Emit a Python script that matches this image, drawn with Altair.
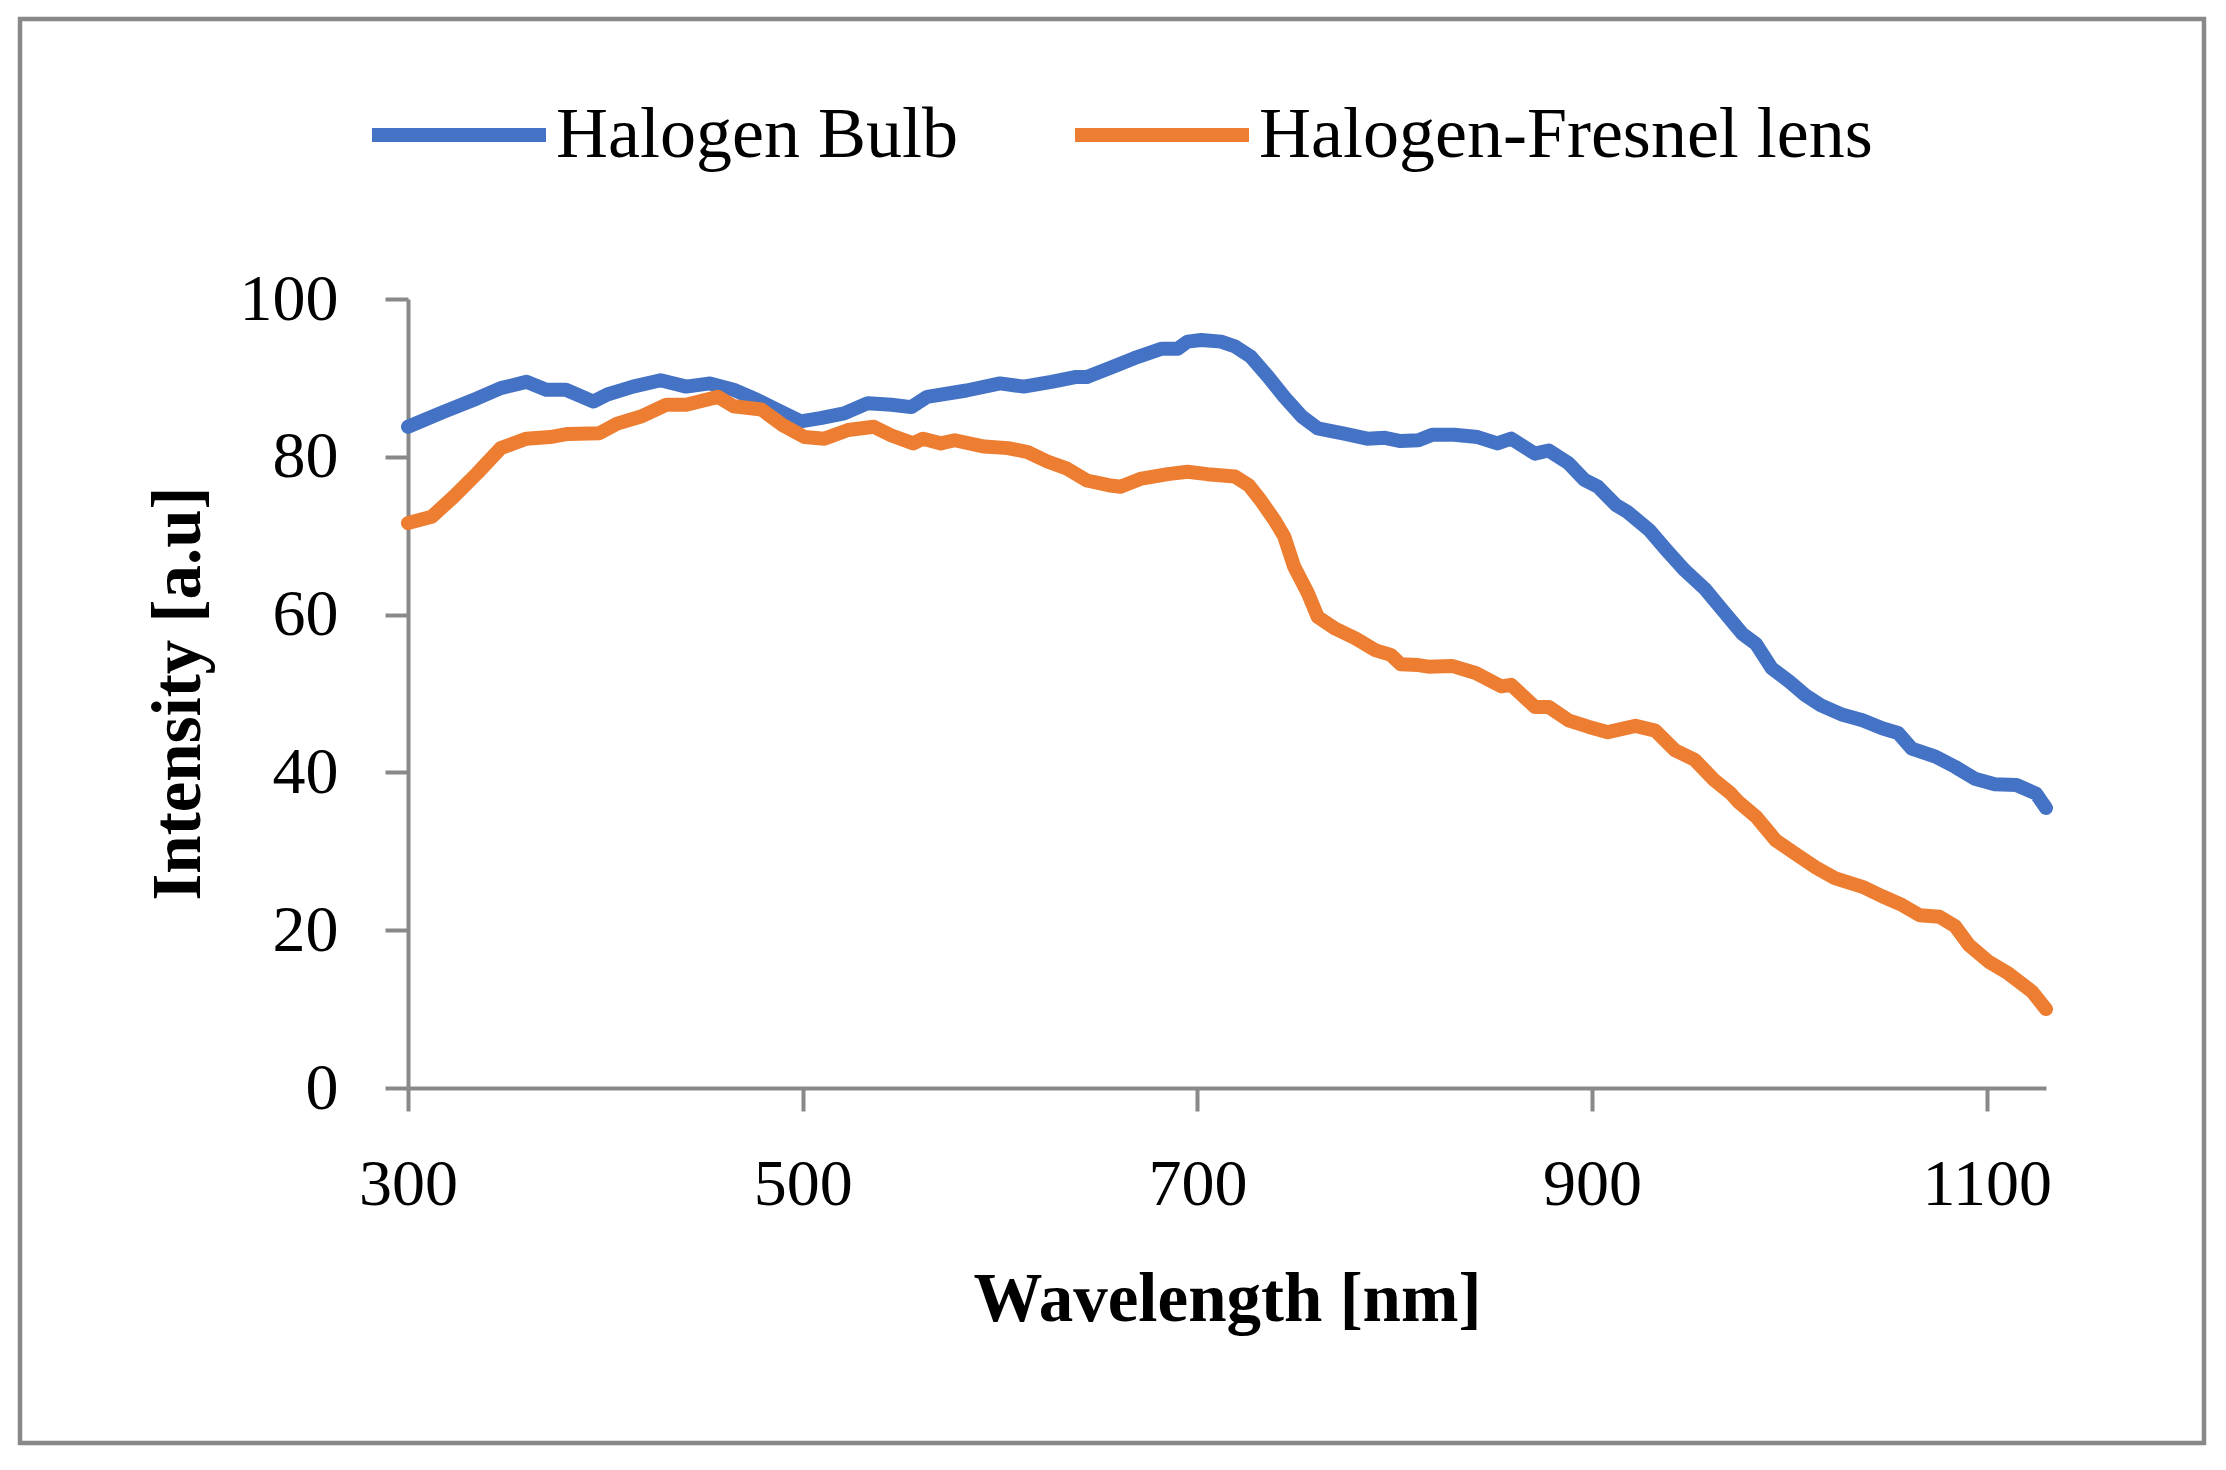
import pandas as pd
import altair as alt

# Halogen bulb spectrum
bulb_nm = [300, 318, 335, 347, 360, 370, 380, 394, 401, 414, 428, 441, 453, 465,
           477, 489, 499, 509, 521, 533, 545, 555, 563, 583, 600, 612, 626, 638,
           644, 655, 668, 682, 690, 695, 702, 712, 719, 727, 736, 744, 753, 761,
           775, 786, 795, 803, 812, 819, 830, 842, 852, 859, 871, 878, 888, 896,
           903, 912, 918, 929, 939, 947, 957, 966, 976, 983, 991, 1000, 1008,
           1016, 1027, 1037, 1047, 1055, 1062, 1074, 1084, 1094, 1104, 1115,
           1125, 1130]
bulb_val = [83.8, 85.7, 87.4, 88.7, 89.5, 88.5, 88.5, 87.0, 87.9, 88.9, 89.7, 88.9,
            89.3, 88.5, 87.2, 85.7, 84.5, 84.9, 85.5, 86.8, 86.6, 86.3, 87.6, 88.4,
            89.3, 88.9, 89.5, 90.1, 90.1, 91.2, 92.5, 93.7, 93.7, 94.6, 94.8, 94.6,
            94.0, 92.7, 90.1, 87.6, 85.1, 83.6, 82.9, 82.3, 82.4, 82.0, 82.1, 82.8,
            82.8, 82.5, 81.7, 82.3, 80.4, 80.8, 79.2, 77.1, 76.2, 73.9, 73.0, 70.7,
            67.8, 65.6, 63.3, 60.6, 57.6, 56.3, 53.2, 51.5, 49.8, 48.5, 47.3, 46.6,
            45.6, 45.0, 43.0, 42.0, 40.7, 39.2, 38.5, 38.4, 37.3, 35.5]

# Halogen bulb + Fresnel lens spectrum
fresnel_nm = [300, 312, 323, 335, 347, 360, 372, 381, 397, 406, 418, 431, 441, 457,
              465, 479, 490, 501, 511, 523, 536, 545, 556, 561, 570, 577, 592, 604,
              614, 624, 634, 644, 655, 661, 671, 685, 695, 705, 719, 726, 732, 739,
              744, 749, 756, 761, 770, 780, 790, 798, 803, 812, 817, 829, 841, 854,
              859, 871, 878, 888, 898, 908, 922, 932, 942, 952, 962, 970, 974, 983,
              993, 1003, 1013, 1023, 1037, 1047, 1057, 1066, 1076, 1084, 1091, 1101,
              1111, 1123, 1130]
fresnel_val = [71.6, 72.4, 74.9, 77.9, 81.1, 82.3, 82.5, 82.9, 83.0, 84.2, 85.1, 86.6,
               86.6, 87.6, 86.4, 86.0, 84.0, 82.5, 82.3, 83.4, 83.8, 82.7, 81.7, 82.3,
               81.7, 82.1, 81.3, 81.1, 80.6, 79.4, 78.5, 77.0, 76.4, 76.2, 77.2, 77.8,
               78.1, 77.8, 77.5, 76.4, 74.5, 72.0, 69.9, 66.1, 62.7, 59.7, 58.2, 57.0,
               55.5, 54.9, 53.7, 53.6, 53.4, 53.5, 52.6, 50.9, 51.1, 48.3, 48.3, 46.6,
               45.8, 45.1, 45.9, 45.3, 42.8, 41.6, 39.0, 37.4, 36.3, 34.4, 31.4, 29.7,
               28.0, 26.6, 25.5, 24.3, 23.2, 21.9, 21.7, 20.5, 18.1, 16.0, 14.5, 12.2,
               10.0]

series_names = ['Halogen Bulb', 'Halogen-Fresnel lens']
series_colors = ['#4472C4', '#ED7D31']
x_ticks = [300, 500, 700, 900, 1100]
y_ticks = [0, 20, 40, 60, 80, 100]

df = pd.concat([
    pd.DataFrame({'wavelength': bulb_nm, 'intensity': bulb_val, 'series': series_names[0]}),
    pd.DataFrame({'wavelength': fresnel_nm, 'intensity': fresnel_val, 'series': series_names[1]}),
])

FONT = 'Liberation Serif'
GRAY = '#898989'

lines = alt.Chart(df).mark_line(
    strokeWidth=14, strokeJoin='round', strokeCap='round'
).encode(
    x=alt.X('wavelength:Q',
            scale=alt.Scale(domain=[300, 1130], nice=False, zero=False),
            axis=alt.Axis(values=x_ticks, format='d', title='Wavelength [nm]',
                          grid=False, labelFlush=False,
                          domainColor=GRAY, domainWidth=4, tickColor=GRAY,
                          tickWidth=4, tickSize=23, labelPadding=41,
                          labelFont=FONT, labelFontSize=66, labelColor='black',
                          titleFont=FONT, titleFontSize=69, titleFontWeight='bold',
                          titleColor='black', titleBaseline='alphabetic',
                          titleY=232, titleX=819)),
    y=alt.Y('intensity:Q',
            scale=alt.Scale(domain=[0, 100], nice=False),
            axis=alt.Axis(values=y_ticks, format='d', title='Intensity [a.u]',
                          grid=False, labelFlush=False,
                          domainColor=GRAY, domainWidth=4, tickColor=GRAY,
                          tickWidth=4, tickSize=23, labelPadding=47,
                          labelFont=FONT, labelFontSize=66, labelColor='black',
                          titleFont=FONT, titleFontSize=69, titleFontWeight='bold',
                          titleColor='black', titleAngle=270, titleAlign='center',
                          titleBaseline='alphabetic', titleX=-209, titleY=394)),
    color=alt.Color('series:N',
                    scale=alt.Scale(domain=series_names, range=series_colors),
                    legend=alt.Legend(title=None, orient='none', legendX=-43,
                                      legendY=-258, direction='horizontal',
                                      symbolType='stroke', symbolSize=30276,
                                      symbolStrokeWidth=14, labelOffset=3,
                                      labelFont=FONT, labelFontSize=72,
                                      labelColor='black', columnPadding=89,
                                      padding=0, labelLimit=1000)),
)

# thin gray frame around the whole figure
frame = alt.Chart(pd.DataFrame({'f': [0]})).mark_rect(
    filled=False, stroke=GRAY, strokeWidth=4.5
).encode(
    x=alt.value(-388), x2=alt.value(1796),
    y=alt.value(-280), y2=alt.value(1144)
)

chart = alt.layer(frame, lines).properties(
    width=1638,
    height=789,
    autosize=alt.AutoSizeParams(type='none'),
    padding={'left': 400, 'top': 291, 'right': 172, 'bottom': 370},
).configure_view(stroke=None)

chart.save("out.html", embed_options={"renderer": "svg", "actions": False})
